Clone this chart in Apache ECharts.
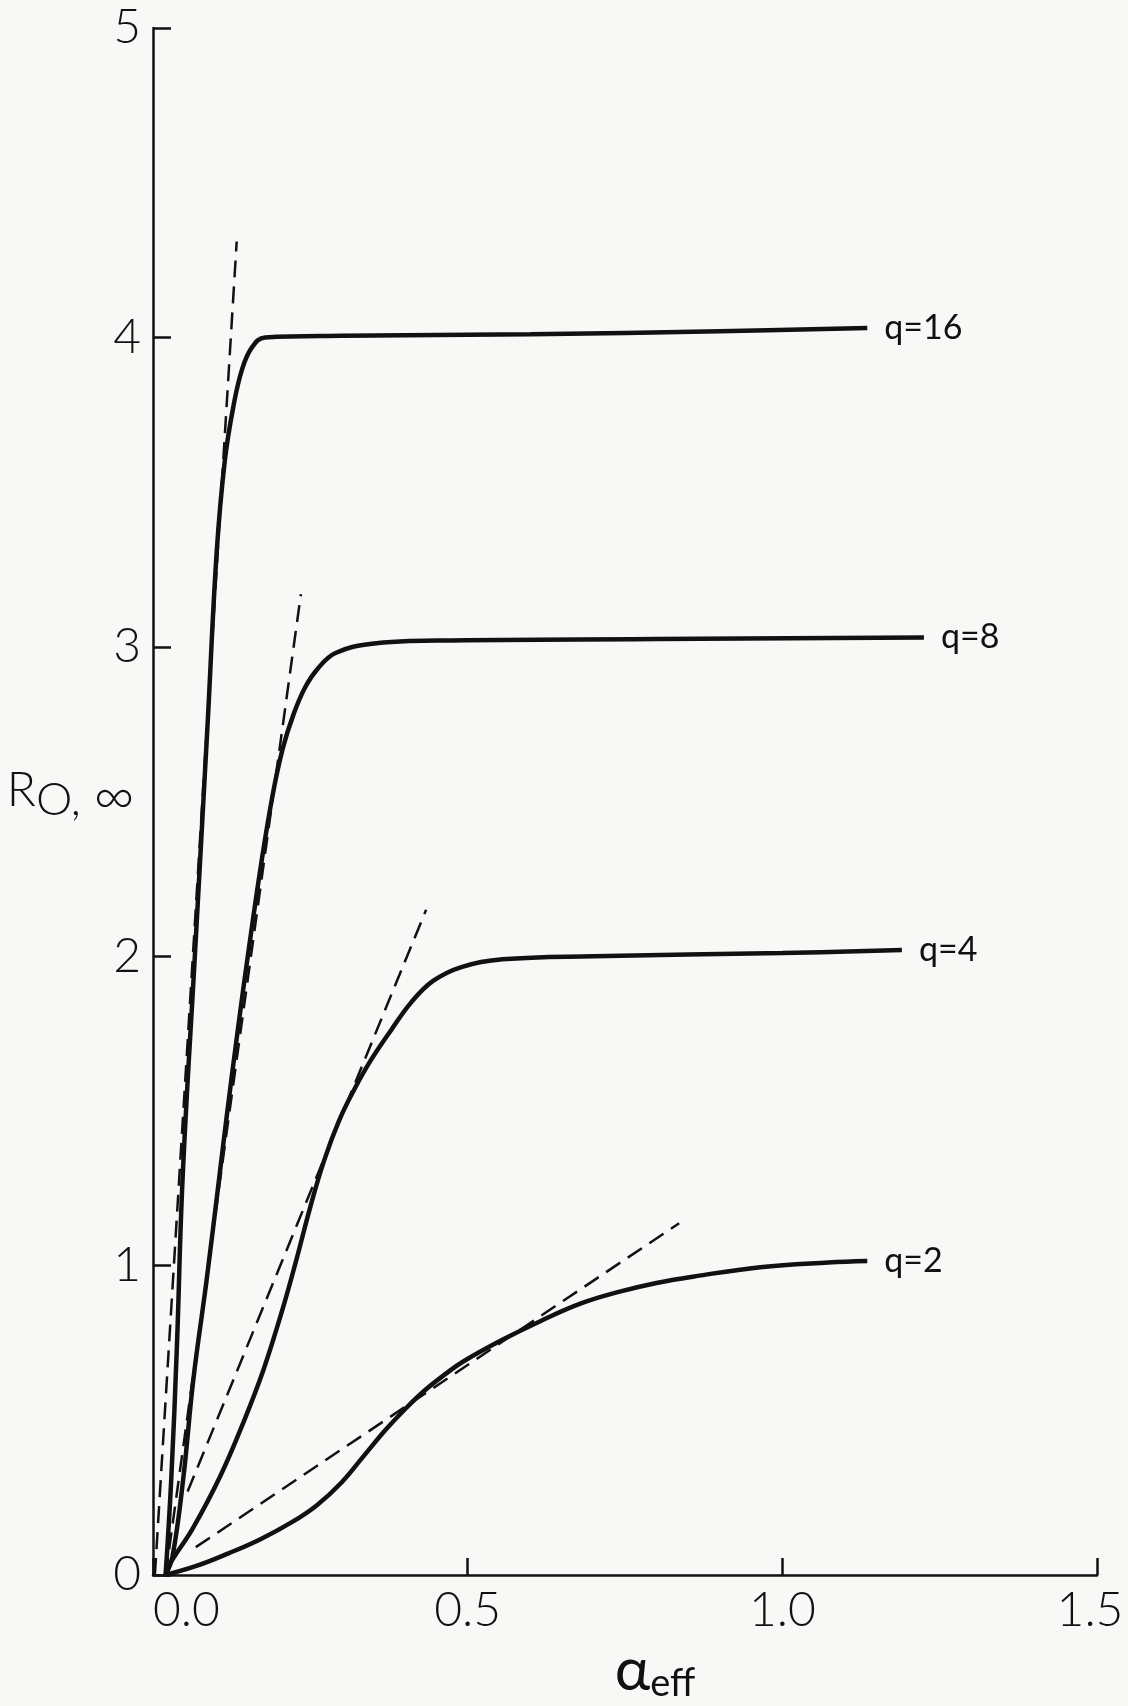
<!DOCTYPE html>
<html>
<head>
<meta charset="utf-8">
<title>R0 vs alpha_eff</title>
<script src="https://cdn.jsdelivr.net/npm/echarts@6/dist/echarts.min.js"></script>
<style>
    html, body { margin: 0; padding: 0; background: #f8f8f6; }
    #chart { width: 1128px; height: 1706px; }
</style>
</head>
<body>
<div id="chart"></div>
<script>
// curve names
var curveNames = ['q=16', 'q=8', 'q=4', 'q=2'];

// solid curves [alpha_eff, R0]
var q16Curve = [
    [0.02, 0], [0.029, 0.31], [0.038, 0.74], [0.047, 1.28], [0.067, 2.02],
    [0.087, 2.76], [0.101, 3.30], [0.114, 3.60], [0.128, 3.78], [0.142, 3.90],
    [0.158, 3.97], [0.178, 4.0], [0.3, 4.005], [0.6, 4.01], [0.9, 4.02], [1.135, 4.03]
];
var q8Curve = [
    [0.02, 0], [0.031, 0.06], [0.048, 0.31], [0.064, 0.63], [0.085, 0.95],
    [0.105, 1.28], [0.117, 1.48], [0.134, 1.75], [0.152, 2.02], [0.172, 2.30],
    [0.19, 2.52], [0.206, 2.67], [0.223, 2.78], [0.242, 2.87], [0.262, 2.93],
    [0.29, 2.98], [0.348, 3.01], [0.45, 3.02], [0.8, 3.025], [1.225, 3.03]
];
var q4Curve = [
    [0.02, 0], [0.028, 0.04], [0.063, 0.15], [0.107, 0.32], [0.145, 0.50],
    [0.175, 0.66], [0.206, 0.86], [0.228, 1.02], [0.25, 1.19], [0.272, 1.34],
    [0.296, 1.47], [0.32, 1.57], [0.345, 1.66], [0.378, 1.76], [0.41, 1.85],
    [0.445, 1.92], [0.49, 1.965], [0.555, 1.99], [0.7, 2.0], [1.0, 2.01], [1.19, 2.02]
];
var q2Curve = [
    [0.02, 0], [0.07, 0.03], [0.12, 0.07], [0.17, 0.115], [0.22, 0.17],
    [0.26, 0.225], [0.30, 0.30], [0.335, 0.385], [0.37, 0.47], [0.40, 0.535],
    [0.432, 0.597], [0.465, 0.65], [0.493, 0.69], [0.555, 0.76], [0.617, 0.822],
    [0.679, 0.877], [0.74, 0.915], [0.8, 0.944], [0.863, 0.966], [0.965, 0.995],
    [1.073, 1.01], [1.135, 1.015]
];

// dashed tangents (start, end)
var q16Tangent = [[0.003, 0], [0.133, 4.31]];
var q8Tangent = [[0.02, 0], [0.235, 3.17]];
var q4Tangent = [[0.055, 0.27], [0.434, 2.15]];
var q2Tangent = [[0.068, 0.09], [0.836, 1.137]];

var FONT = "Lato, 'DejaVu Sans', sans-serif";
var INK = '#111';

var _pageInit = {
    init: function() {
        this.chart = echarts.init(document.getElementById('chart'));
        this.chart.setOption(this.getOption());
    },
    solid: function(name, data) {
        return {
            name: name,
            type: 'line',
            data: data,
            smooth: 0.4,
            showSymbol: false,
            silent: true,
            lineStyle: { color: INK, width: 4.5 },
            endLabel: {
                show: true,
                formatter: name,
                distance: 17,
                color: INK,
                fontFamily: FONT,
                fontWeight: 'normal',
                fontSize: 34
            }
        };
    },
    dashed: function(data) {
        return {
            type: 'line',
            data: data,
            showSymbol: false,
            silent: true,
            lineStyle: { color: INK, width: 2.5, type: [17, 9] }
        };
    },
    getOption: function() {
        return {
            backgroundColor: '#f8f8f6',
            animation: false,
            grid: { left: 153, right: 31, top: 28, bottom: 131, outerBoundsMode: 'none' },
            xAxis: {
                type: 'value',
                min: 0,
                max: 1.5,
                interval: 0.5,
                name: '{a|α}{s|eff}',
                nameLocation: 'middle',
                nameGap: 64,
                nameMoveOverlap: false,
                nameTextStyle: {
                    padding: [0, 0, 0, 60],
                    rich: {
                        a: { fontFamily: FONT, fontWeight: 'normal', fontSize: 60, color: INK },
                        s: { fontFamily: FONT, fontWeight: 'normal', fontSize: 38, color: INK, padding: [26, 0, 0, 0] }
                    }
                },
                axisLine: { lineStyle: { color: INK, width: 2.5 } },
                axisTick: { inside: true, length: 17, lineStyle: { color: INK, width: 2.5 } },
                splitLine: { show: false },
                axisLabel: {
                    margin: 12,
                    alignMinLabel: 'left',
                    color: INK,
                    fontFamily: FONT,
                    fontWeight: 300,
                    fontSize: 48,
                    formatter: function(v) {
                        // last label sits a little left so it is not clipped
                        return v === 1.5 ? '{m|' + v.toFixed(1) + '}' : v.toFixed(1);
                    },
                    rich: {
                        m: { fontFamily: FONT, fontWeight: 300, fontSize: 48, color: INK, padding: [0, 14, 0, 0] }
                    }
                }
            },
            yAxis: {
                type: 'value',
                min: 0,
                max: 5,
                interval: 1,
                name: '{r|R}{s|O, }{i|∞}',
                nameLocation: 'middle',
                nameRotate: 0,
                nameGap: 18,
                nameMoveOverlap: false,
                nameTextStyle: {
                    padding: [0, 0, 22, 0],
                    rich: {
                        r: { fontFamily: FONT, fontWeight: 300, fontSize: 48, color: INK },
                        s: { fontFamily: FONT, fontWeight: 300, fontSize: 46, color: INK, padding: [20, 0, 0, 0] },
                        i: { fontFamily: FONT, fontWeight: 300, fontSize: 56, color: INK, padding: [12, 0, 0, 0] }
                    }
                },
                axisLine: { lineStyle: { color: INK, width: 2.5 } },
                axisTick: { inside: true, length: 18, lineStyle: { color: INK, width: 2.5 } },
                splitLine: { show: false },
                axisLabel: {
                    margin: 12,
                    color: INK,
                    fontFamily: FONT,
                    fontWeight: 300,
                    fontSize: 48
                }
            },
            series: [
                this.solid(curveNames[0], q16Curve),
                this.solid(curveNames[1], q8Curve),
                this.solid(curveNames[2], q4Curve),
                this.solid(curveNames[3], q2Curve),
                this.dashed(q16Tangent),
                this.dashed(q8Tangent),
                this.dashed(q4Tangent),
                this.dashed(q2Tangent)
            ]
        };
    }
};

_pageInit.init();
</script>
</body>
</html>
